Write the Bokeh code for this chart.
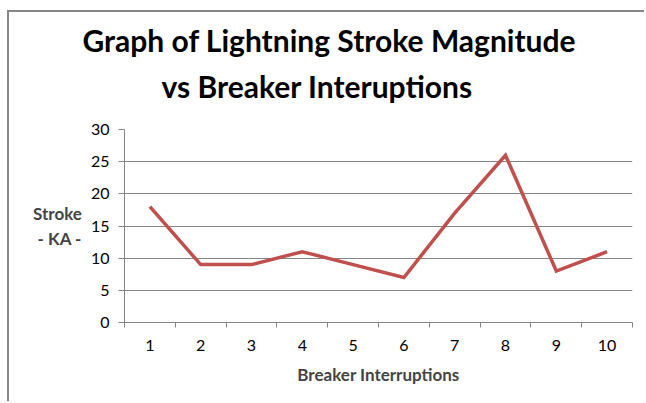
from bokeh.plotting import figure
from bokeh.models import FixedTicker, Title, Range1d
from bokeh.embed import file_html
from bokeh.resources import INLINE

interruptions = [1, 2, 3, 4, 5, 6, 7, 8, 9, 10]
stroke_ka = [18, 9, 9, 11, 9, 7, 17, 26, 8, 11]
y_ticks = [0, 5, 10, 15, 20, 25, 30]
category_edges = [0.5, 1.5, 2.5, 3.5, 4.5, 5.5, 6.5, 7.5, 8.5, 9.5, 10.5]
title_lines = ["Graph of Lightning Stroke Magnitude", "vs Breaker Interuptions"]
y_label = "Stroke\n- KA -"
x_label = "Breaker Interruptions"

FONT = "Lato"
GRID = "#868686"

p = figure(width=637, height=391, output_backend="svg", toolbar_location=None,
           x_range=Range1d(0.5, 10.5), y_range=Range1d(0, 30),
           min_border_left=115, min_border_right=14, min_border_top=117, min_border_bottom=81)
p.title = None
p.outline_line_color = None
p.background_fill_color = "white"
p.border_fill_color = "white"
p.styles = {"margin-left": "9px", "margin-top": "12px",
            "box-shadow": "-2px -2px 0px 0px #878787"}

p.line(interruptions, stroke_ka, line_color="#C0504D", line_width=3.5, line_join="miter")

# x axis: labels at centres, tick marks at category edges
p.xaxis.ticker = FixedTicker(ticks=interruptions, minor_ticks=category_edges)
p.xaxis.major_tick_out = 0
p.xaxis.major_tick_in = 0
p.xaxis.minor_tick_out = 5
p.xaxis.minor_tick_in = 0
p.xaxis.minor_tick_line_color = GRID
p.xaxis.axis_line_color = GRID
p.xaxis.major_label_text_font = FONT
p.xaxis.major_label_text_font_size = "16px"
p.xaxis.major_label_text_color = "#000000"
p.xaxis.major_label_standoff = 12
p.xaxis.axis_label = x_label
p.xaxis.axis_label_text_font = FONT
p.xaxis.axis_label_text_font_style = "bold"
p.xaxis.axis_label_text_font_size = "17px"
p.xaxis.axis_label_standoff = 10

p.yaxis.ticker = FixedTicker(ticks=y_ticks, minor_ticks=[])
p.yaxis.major_tick_out = 6
p.yaxis.major_tick_in = 0
p.yaxis.major_tick_line_color = GRID
p.yaxis.axis_line_color = GRID
p.yaxis.major_label_text_font = FONT
p.yaxis.major_label_text_font_size = "16px"
p.yaxis.major_label_text_color = "#000000"
p.yaxis.major_label_standoff = 9
p.yaxis.axis_label = y_label
p.yaxis.axis_label_orientation = "horizontal"
p.yaxis.axis_label_text_font = FONT
p.yaxis.axis_label_text_font_style = "bold"
p.yaxis.axis_label_text_font_size = "17px"
p.yaxis.axis_label_standoff = 6

p.xgrid.visible = False
p.ygrid.ticker = FixedTicker(ticks=y_ticks)
p.ygrid.grid_line_color = GRID
p.ygrid.grid_line_width = 1

# title lines: first added sits closest to the frame
p.add_layout(Title(text=title_lines[1], align="left", offset=37, standoff=52,
                   text_font=FONT, text_font_style="bold", text_font_size="30px",
                   text_color="#000000"), "above")
p.add_layout(Title(text=title_lines[0], align="left", offset=-42, standoff=-36,
                   text_font=FONT, text_font_style="bold", text_font_size="30px",
                   text_color="#000000"), "above")

open("out.html", "w").write(file_html(p, INLINE))
